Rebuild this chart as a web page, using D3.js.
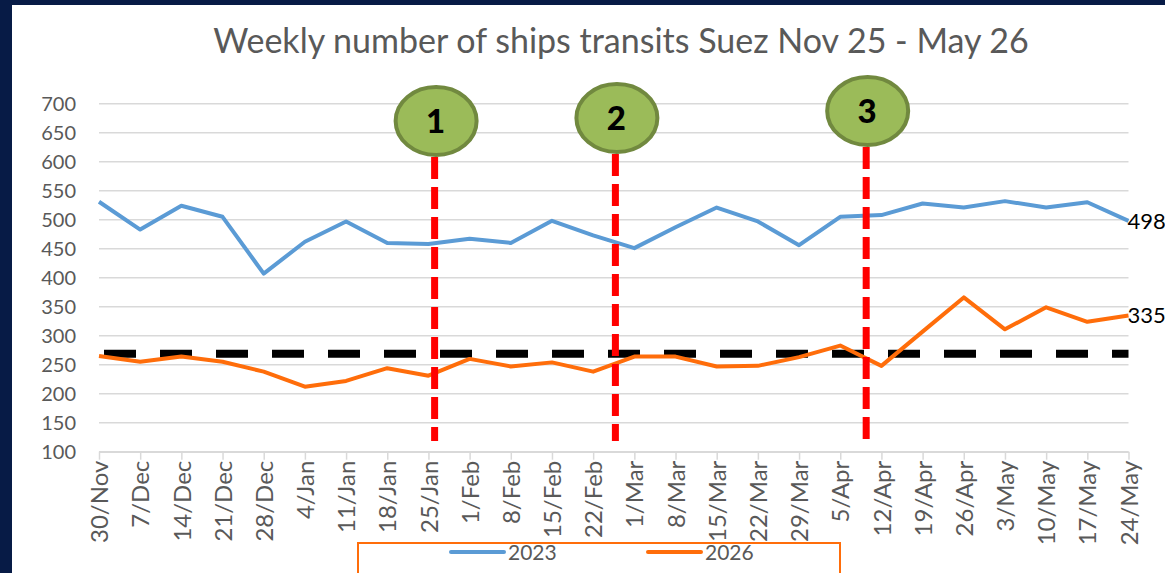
<!DOCTYPE html>
<html>
<head>
<meta charset="utf-8">
<script src="https://cdn.jsdelivr.net/npm/d3@7"></script>
<style>
  body { margin: 0; background: #ffffff; }
  svg { display: block; }
</style>
</head>
<body>
<div id="chart"></div>
<script>

// weekly categories (x axis)
var weeks = ["30/Nov","7/Dec","14/Dec","21/Dec","28/Dec","4/Jan","11/Jan","18/Jan","25/Jan",
             "1/Feb","8/Feb","15/Feb","22/Feb","1/Mar","8/Mar","15/Mar","22/Mar","29/Mar",
             "5/Apr","12/Apr","19/Apr","26/Apr","3/May","10/May","17/May","24/May"];

// ship transits per week
var series2023 = [531,483,524,505,407,462,497,460,458,467,460,498,473,451,487,521,497,456,
                  505,508,528,521,532,521,530,498];
var series2026 = [265,255,264,255,238,212,222,244,231,260,247,254,238,264,264,247,248,263,
                  283,248,307,366,311,349,324,335];

// reference level (black dashed line)
var baseline = 269;

var yTicks = [100,150,200,250,300,350,400,450,500,550,600,650,700];

// numbered events, position in weeks from 30/Nov
var eventLabels = ["1","2","3"];
var eventWeeks = [8.15, 12.54, 18.63];

var seriesNames = ["2023","2026"];
var seriesColors = ["#5b9bd5","#ff6d0a"];

var width = 1165, height = 573;

var svg = d3.select("#chart").append("svg")
            .attr("width", width)
            .attr("height", height);

svg.append("rect")
   .attr("width", width)
   .attr("height", height)
   .attr("fill", "#ffffff");

// dark frame on top and left
svg.append("rect").attr("x", 0).attr("y", 0).attr("width", width).attr("height", 5).attr("fill", "#071b46");
svg.append("rect").attr("x", 0).attr("y", 0).attr("width", 12).attr("height", height).attr("fill", "#071b46");

var x = d3.scaleLinear().domain([0, weeks.length - 1]).range([99, 1128.5]);
var y = d3.scaleLinear().domain([100, 700]).range([451.7, 103.7]);

// title
svg.append("text")
   .attr("x", 621)
   .attr("y", 53)
   .attr("text-anchor", "middle")
   .attr("font-family", "Lato, 'Open Sans', sans-serif")
   .attr("font-size", "34px")
   .attr("fill", "#595959")
   .text("Weekly number of ships transits Suez Nov 25 - May 26");

// gridlines
svg.append("g").selectAll("line")
   .data(yTicks)
   .enter().append("line")
   .attr("x1", x(0))
   .attr("x2", x(weeks.length - 1))
   .attr("y1", function (d) { return y(d); })
   .attr("y2", function (d) { return y(d); })
   .attr("stroke", "#d9d9d9")
   .attr("stroke-width", 1.5);

// y axis labels
var yAxis = d3.axisLeft(y).tickValues(yTicks).tickSize(0).tickPadding(23);
var yG = svg.append("g").attr("transform", "translate(" + x(0) + ",0)").call(yAxis);
yG.select(".domain").remove();
yG.selectAll("text")
  .attr("font-family", "Lato, 'Open Sans', sans-serif")
  .attr("font-size", "20px")
  .attr("fill", "#595959");

// x axis with rotated labels
var xAxis = d3.axisBottom(x)
              .tickValues(d3.range(weeks.length))
              .tickFormat(function (i) { return weeks[i]; })
              .tickSize(8)
              .tickSizeOuter(0);
var xG = svg.append("g").attr("transform", "translate(0," + y(100) + ")").call(xAxis);
xG.select(".domain").attr("stroke", "#d9d9d9").attr("stroke-width", 1.5);
xG.selectAll(".tick line").attr("stroke", "#d9d9d9").attr("stroke-width", 1.5);
xG.selectAll("text")
  .attr("font-family", "Lato, 'Open Sans', sans-serif")
  .attr("font-size", "24px")
  .attr("fill", "#595959")
  .attr("text-anchor", "end")
  .attr("transform", "rotate(-90)")
  .attr("x", -9)
  .attr("y", 0)
  .attr("dy", "0.36em");

// dashed reference line
svg.append("line")
   .attr("x1", x(0))
   .attr("x2", x(weeks.length - 1))
   .attr("y1", y(baseline))
   .attr("y2", y(baseline))
   .attr("stroke", "#000000")
   .attr("stroke-width", 8)
   .attr("stroke-dasharray", "32,24")
   .attr("stroke-dashoffset", -5);

var line = d3.line()
             .x(function (d, i) { return x(i); })
             .y(function (d) { return y(d); });

[series2023, series2026].forEach(function (s, k) {
  svg.append("path")
     .datum(s)
     .attr("d", line)
     .attr("fill", "none")
     .attr("stroke", seriesColors[k])
     .attr("stroke-width", 4)
     .attr("stroke-linejoin", "round");

  // value at the last week
  svg.append("text")
     .attr("x", x(s.length - 1) - 1)
     .attr("y", y(s[s.length - 1]))
     .attr("dy", "0.36em")
     .attr("font-family", "Lato, 'Open Sans', sans-serif")
     .attr("font-size", "22px")
     .attr("fill", "#000000")
     .text(s[s.length - 1]);
});

// event markers: red dashed line + green bubble
var bubbleY = [121, 118, 111];

eventWeeks.forEach(function (w, i) {
  svg.append("line")
     .attr("x1", x(w))
     .attr("x2", x(w))
     .attr("y1", bubbleY[i] + 36)
     .attr("y2", 441)
     .attr("stroke", "#ff0000")
     .attr("stroke-width", 7)
     .attr("stroke-dasharray", "22,8");

  svg.append("ellipse")
     .attr("cx", x(w) + 1.5)
     .attr("cy", bubbleY[i])
     .attr("rx", 40.5)
     .attr("ry", 34)
     .attr("fill", "#9bbb59")
     .attr("stroke", "#71893f")
     .attr("stroke-width", 4);

  svg.append("text")
     .attr("x", x(w) + 1)
     .attr("y", bubbleY[i])
     .attr("dy", "0.36em")
     .attr("text-anchor", "middle")
     .attr("font-family", "Lato, 'Open Sans', sans-serif")
     .attr("font-weight", "900")
     .attr("font-size", "33px")
     .attr("fill", "#000000")
     .text(eventLabels[i]);
});

// legend
svg.append("rect")
   .attr("x", 358)
   .attr("y", 543)
   .attr("width", 482)
   .attr("height", 50)
   .attr("fill", "#ffffff")
   .attr("stroke", "#ff6d0a")
   .attr("stroke-width", 2);

var legendX = [451, 648];
seriesNames.forEach(function (name, k) {
  svg.append("line")
     .attr("x1", legendX[k])
     .attr("x2", legendX[k] + 53)
     .attr("y1", 552)
     .attr("y2", 552)
     .attr("stroke", seriesColors[k])
     .attr("stroke-width", 4)
     .attr("stroke-linecap", "round");

  svg.append("text")
     .attr("x", legendX[k] + 57)
     .attr("y", 552)
     .attr("dy", "0.36em")
     .attr("font-family", "Lato, 'Open Sans', sans-serif")
     .attr("font-size", "21px")
     .attr("fill", "#595959")
     .text(name);
});

</script>
</body>
</html>
